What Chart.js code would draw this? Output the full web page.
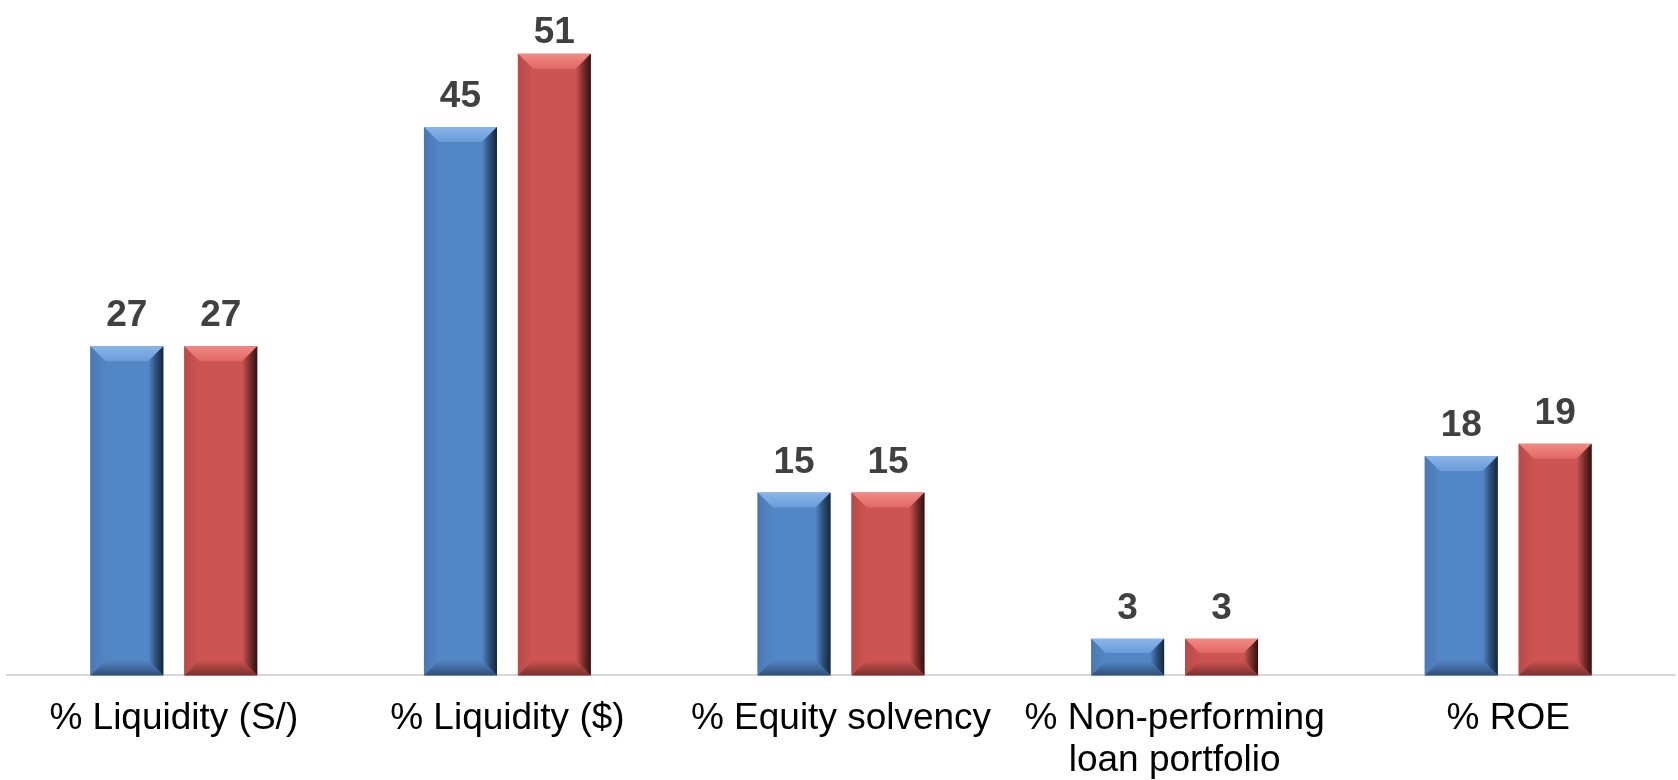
<!DOCTYPE html>
<html>
<head>
<meta charset="utf-8">
<script src="https://cdn.jsdelivr.net/npm/chart.js@4.4.1/dist/chart.umd.min.js"></script>
<style>
  html, body { margin: 0; padding: 0; background: #fff; overflow: hidden; }
  #wrap { width: 1678px; height: 805px; position: relative; }
</style>
</head>
<body>
<div id="wrap"><canvas id="chart"></canvas></div>
<script>
const categories = [
  '% Liquidity (S/)',
  '% Liquidity ($)',
  '% Equity solvency',
  ['% Non-performing', 'loan portfolio'],
  '% ROE'
]
const seriesBlue = [27, 45, 15, 3, 18]
const seriesRed = [27, 51, 15, 3, 19]

// bevelled look for each bar: light top edge, dark right edge and bottom
const bevelPlugin = {
  id: 'bevel',
  afterDatasetsDraw(chart) {
    const ctx = chart.ctx
    chart.data.datasets.forEach((ds, i) => {
      const meta = chart.getDatasetMeta(i)
      const tone = ds.bevel
      meta.data.forEach(bar => {
        const L = bar.x - bar.width / 2
        const R = bar.x + bar.width / 2
        const T = bar.y
        const B = bar.base
        const b = Math.min(15, (B - T) / 2.6)
        ctx.save()

        // top
        let g = ctx.createLinearGradient(0, T, 0, T + b)
        g.addColorStop(0, tone.hi)
        g.addColorStop(1, tone.top)
        ctx.fillStyle = g
        ctx.beginPath()
        ctx.moveTo(L, T); ctx.lineTo(R, T); ctx.lineTo(R - b, T + b); ctx.lineTo(L + b, T + b)
        ctx.closePath(); ctx.fill()

        // left
        g = ctx.createLinearGradient(L, 0, L + b, 0)
        g.addColorStop(0, tone.left)
        g.addColorStop(1, tone.face)
        ctx.fillStyle = g
        ctx.beginPath()
        ctx.moveTo(L, T); ctx.lineTo(L + b, T + b); ctx.lineTo(L + b, B - b); ctx.lineTo(L, B)
        ctx.closePath(); ctx.fill()

        // right
        g = ctx.createLinearGradient(R - b, 0, R, 0)
        g.addColorStop(0, tone.face)
        g.addColorStop(0.5, tone.dark)
        g.addColorStop(1, tone.edge)
        ctx.fillStyle = g
        ctx.beginPath()
        ctx.moveTo(R, T); ctx.lineTo(R, B); ctx.lineTo(R - b, B - b); ctx.lineTo(R - b, T + b)
        ctx.closePath(); ctx.fill()

        // bottom
        g = ctx.createLinearGradient(0, B - b, 0, B)
        g.addColorStop(0, tone.face)
        g.addColorStop(1, tone.dark)
        ctx.fillStyle = g
        ctx.beginPath()
        ctx.moveTo(L, B); ctx.lineTo(L + b, B - b); ctx.lineTo(R - b, B - b); ctx.lineTo(R, B)
        ctx.closePath(); ctx.fill()

        ctx.restore()
      })
    })
  }
}

// value printed above each bar, kept inside the top of the canvas
const valueLabels = {
  id: 'valueLabels',
  afterDatasetsDraw(chart) {
    const ctx = chart.ctx
    ctx.save()
    ctx.font = 'bold 37px "Liberation Sans", Arial, sans-serif'
    ctx.fillStyle = '#404040'
    ctx.textAlign = 'center'
    ctx.textBaseline = 'alphabetic'
    chart.data.datasets.forEach((ds, i) => {
      chart.getDatasetMeta(i).data.forEach((bar, j) => {
        const y = Math.max(bar.y - 20, 43)
        ctx.fillText(ds.data[j], bar.x, y)
      })
    })
    ctx.restore()
  }
}

const chart = new Chart(document.getElementById('chart'), {
  type: 'bar',
  data: {
    labels: categories,
    datasets: [
      {
        label: 'Series 1',
        data: seriesBlue,
        backgroundColor: '#5386c6',
        bevel: { face: '#5386c6', top: '#6a9bd8', hi: '#8ab5ea', left: '#4a78b3', dark: '#2f4f78', edge: '#16253a' },
        barPercentage: 0.777,
        categoryPercentage: 0.563
      },
      {
        label: 'Series 2',
        data: seriesRed,
        backgroundColor: '#cc5452',
        bevel: { face: '#cc5452', top: '#e06864', hi: '#f08a85', left: '#b94a48', dark: '#7a2f2e', edge: '#2e1212' },
        barPercentage: 0.777,
        categoryPercentage: 0.563
      }
    ]
  },
  options: {
    responsive: true,
    maintainAspectRatio: false,
    animation: false,
    layout: { padding: { top: 5, left: 7, right: 3, bottom: 0 } },
    plugins: {
      legend: { display: false },
      tooltip: { enabled: false }
    },
    scales: {
      x: {
        grid: { display: false, drawTicks: false },
        border: { display: true, color: '#d9d9d9', width: 2 },
        ticks: {
          color: '#000',
          padding: 23,
          autoSkip: false,
          maxRotation: 0,
          font: { family: '"Liberation Sans", Arial, sans-serif', size: 37, lineHeight: 1.13 }
        }
      },
      y: {
        display: false,
        min: 0,
        max: 55
      }
    }
  },
  plugins: [bevelPlugin, valueLabels]
})
</script>
</body>
</html>
